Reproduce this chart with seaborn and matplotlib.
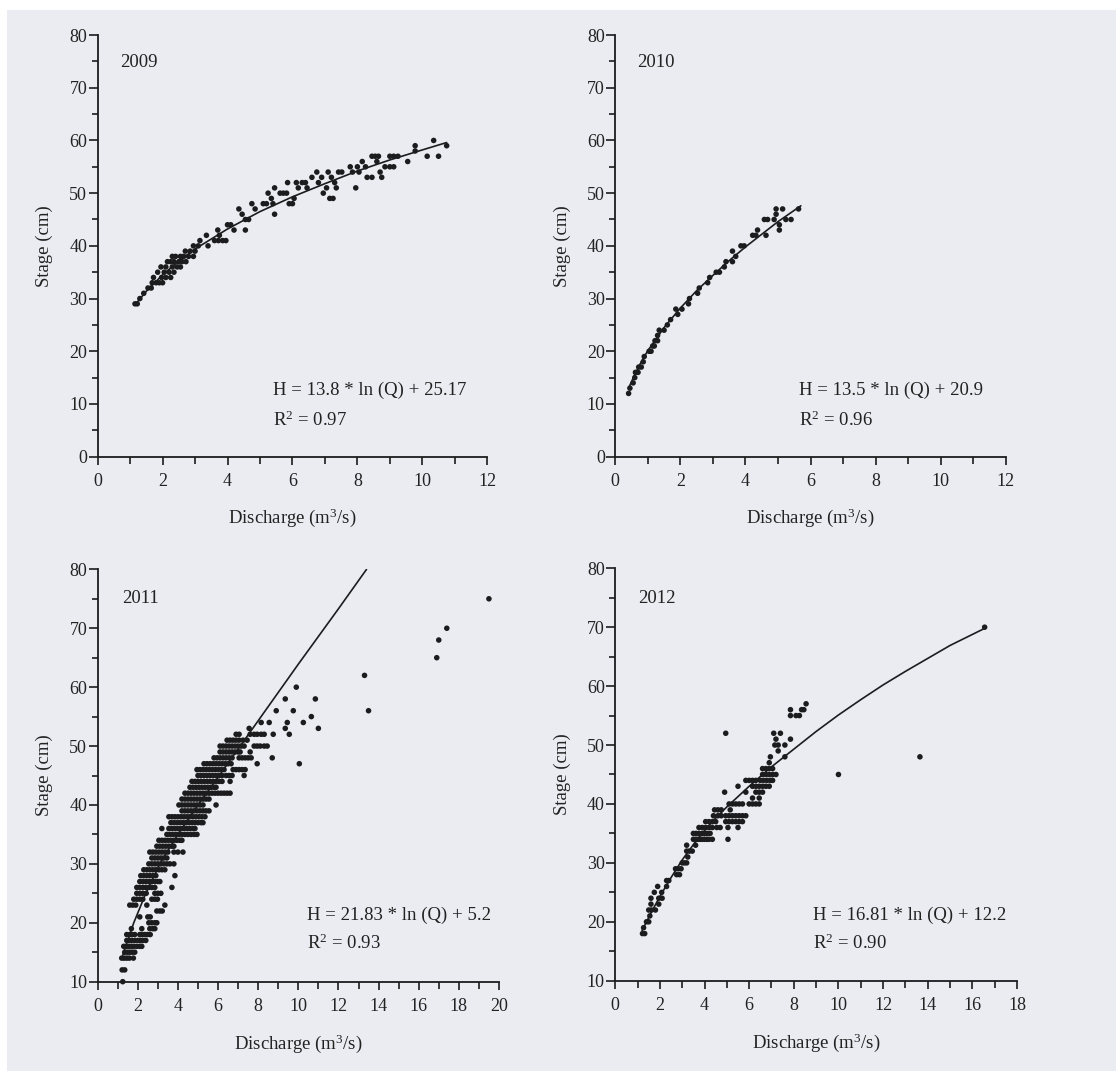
import numpy as np
import pandas as pd
import matplotlib
matplotlib.use("Agg")
import matplotlib.pyplot as plt
from matplotlib.patches import Rectangle
from matplotlib.ticker import MultipleLocator
import seaborn as sns

# ---------------------------------------------------------------------------
# Stage-discharge gaugings, grouped by stage reading (cm); each row lists the
# discharges (m3/s) observed at that stage.
# ---------------------------------------------------------------------------
stages_2009 = [29, 30, 31, 32, 33, 34, 35, 36, 37, 38, 39, 40, 41, 42, 43, 44,
               45, 46, 47, 48, 49, 50, 51, 52, 53, 54, 55, 56, 57, 58, 59, 60]
q_rows_2009 = [
    [1.15, 1.22], [1.3], [1.42], [1.55, 1.65], [1.68, 1.8, 1.9, 2.0],
    [1.72, 1.97, 2.1, 2.25], [1.85, 2.05, 2.2, 2.35],
    [1.95, 2.1, 2.3, 2.45, 2.55], [2.15, 2.25, 2.35, 2.5, 2.6, 2.72],
    [2.3, 2.4, 2.55, 2.65, 2.8, 2.95], [2.7, 2.85, 3.0], [2.95, 3.1, 3.4],
    [3.15, 3.6, 3.72, 3.85, 3.95], [3.35, 3.75], [3.7, 4.2, 4.55], [4.0, 4.1],
    [4.55, 4.65], [4.45, 5.45], [4.35, 4.85],
    [4.75, 5.1, 5.2, 5.4, 5.9, 6.0], [5.35, 6.05, 7.15, 7.25],
    [5.25, 5.62, 5.72, 5.82, 6.95], [5.45, 6.18, 6.45, 7.05, 7.35, 7.95],
    [5.85, 6.12, 6.3, 6.4, 6.8, 7.3], [6.6, 6.9, 7.2, 8.3, 8.45, 8.75],
    [6.75, 7.1, 7.42, 7.52, 7.85, 8.05, 8.7], [7.78, 8.0, 8.25, 8.85, 9.0, 9.12],
    [8.15, 8.6, 9.55], [8.45, 8.55, 8.65, 9.0, 9.12, 9.25, 10.15, 10.5],
    [9.78], [9.78, 10.75], [10.35],
]
fit_q_2009 = [1.15, 1.5, 2.0, 2.5, 3.0, 4.0, 5.0, 6.0, 7.0, 8.0, 9.0, 10.0, 10.75]
fit_h_2009 = [28.8, 31.4, 34.5, 37.1, 39.4, 43.2, 46.5, 49.3, 51.8, 54.2, 56.3, 58.2, 59.6]

stages_2010 = [12, 13, 14, 15, 16, 17, 18, 19, 20, 21, 22, 23, 24, 25, 26, 27,
               28, 29, 30, 31, 32, 33, 34, 35, 36, 37, 38, 39, 40, 42, 43, 44,
               45, 46, 47]
q_rows_2010 = [
    [0.41], [0.45], [0.55], [0.6], [0.62, 0.7], [0.72, 0.8], [0.86], [0.89],
    [1.04, 1.1], [1.15, 1.2], [1.22, 1.3], [1.3], [1.35, 1.5], [1.6], [1.7],
    [1.92], [1.86, 2.05], [2.25], [2.28], [2.53], [2.58], [2.84], [2.9],
    [3.1, 3.2], [3.35], [3.4, 3.6], [3.7], [3.6], [3.86, 3.96],
    [4.22, 4.32, 4.63], [4.37, 5.04], [5.04], [4.58, 4.68, 4.88, 5.24, 5.4],
    [4.94], [4.94, 5.14, 5.63],
]
fit_q_2010 = [0.41, 0.6, 0.8, 1.0, 1.5, 2.0, 2.5, 3.0, 3.5, 4.0, 4.5, 5.0, 5.7]
fit_h_2010 = [13.0, 15.6, 18.0, 20.1, 24.5, 28.2, 31.5, 34.4, 37.2, 39.8, 42.2, 44.6, 47.6]

stages_2011 = [10, 12, 14, 15, 16, 17, 18, 19, 20, 21, 22, 23, 24, 25, 26, 27,
               28, 29, 30, 31, 32, 33, 34, 35, 36, 37, 38, 39, 40, 41, 42, 43,
               44, 45, 46, 47, 48, 49, 50, 51, 52, 53, 54, 55, 56, 58, 60, 62,
               65, 68, 70, 75]
q_rows_2011 = [
    [1.25], [1.22, 1.35], [1.2, 1.32, 1.45, 1.58, 1.78],
    [1.35, 1.48, 1.6, 1.72, 1.85],
    [1.3, 1.42, 1.55, 1.68, 1.8, 1.95, 2.1, 2.2],
    [1.45, 1.58, 1.7, 1.85, 2.0, 2.12, 2.25, 2.4],
    [1.45, 1.6, 1.72, 1.85, 2.1, 2.22, 2.35, 2.48, 2.62],
    [1.68, 2.2, 2.6, 2.75, 2.85], [2.55, 2.7, 2.85, 2.95], [2.1, 2.5, 2.62],
    [2.95, 3.1, 3.22], [1.6, 1.75, 1.9, 2.45, 3.35],
    [1.8, 1.95, 2.1, 2.25, 2.7, 2.85, 2.98],
    [1.95, 2.1, 2.25, 2.42, 2.85, 3.0, 3.15],
    [1.95, 2.1, 2.25, 2.4, 2.55, 2.7, 2.85, 3.7],
    [2.1, 2.25, 2.4, 2.55, 2.7, 2.85, 3.0, 3.1],
    [2.15, 2.3, 2.45, 2.6, 2.75, 2.9, 3.85],
    [2.3, 2.45, 2.6, 2.75, 2.9, 3.05, 3.2, 3.35],
    [2.55, 2.7, 2.85, 3.0, 3.15, 3.3, 3.45, 3.6, 3.8],
    [2.7, 2.85, 3.0, 3.15, 3.3, 3.45],
    [2.6, 2.75, 2.9, 3.05, 3.2, 3.35, 3.5, 3.8, 4.0, 4.25],
    [2.95, 3.1, 3.25, 3.4, 3.55, 3.7, 3.8],
    [3.05, 3.2, 3.35, 3.5, 3.65, 3.8, 3.95, 4.1, 4.2],
    [3.45, 3.6, 3.75, 3.9, 4.05, 4.2, 4.35, 4.5, 4.65, 4.8, 4.95],
    [3.2, 3.55, 3.7, 3.85, 4.0, 4.15, 4.3, 4.45, 4.6, 4.75, 4.85],
    [3.65, 3.8, 3.95, 4.1, 4.25, 4.4, 4.55, 4.7, 4.85, 5.0, 5.15, 5.25],
    [3.55, 3.7, 3.85, 4.0, 4.15, 4.3, 4.45, 4.6, 4.75, 4.9, 5.05, 5.2, 5.35],
    [4.2, 4.35, 4.5, 4.65, 4.8, 4.95, 5.1, 5.25, 5.4, 5.55],
    [4.05, 4.2, 4.35, 4.5, 4.65, 4.8, 4.95, 5.1, 5.25, 5.9],
    [4.2, 4.35, 4.5, 4.65, 4.8, 4.95, 5.1, 5.25, 5.4, 5.55],
    [4.35, 4.5, 4.65, 4.8, 4.95, 5.1, 5.25, 5.4, 5.55, 5.7, 5.85, 6.0, 6.15,
     6.3, 6.45, 6.6],
    [4.6, 4.75, 4.9, 5.05, 5.2, 5.35, 5.5, 5.65, 5.8, 5.9],
    [4.7, 4.85, 5.0, 5.15, 5.3, 5.45, 5.6, 5.75, 5.9, 6.05, 6.2, 6.6],
    [5.0, 5.15, 5.3, 5.45, 5.6, 5.75, 5.9, 6.05, 6.2, 6.4, 6.55, 6.7, 7.3],
    [4.95, 5.1, 5.25, 5.4, 5.55, 5.7, 5.85, 6.0, 6.15, 6.3, 6.75, 6.9, 7.05,
     7.2, 7.35],
    [5.3, 5.45, 5.6, 5.75, 5.9, 6.05, 6.2, 6.35, 6.5, 6.65, 7.95, 10.05],
    [5.8, 5.95, 6.1, 6.25, 6.4, 6.55, 6.7, 7.05, 7.2, 7.35, 7.5, 7.65, 8.7],
    [6.1, 6.25, 6.4, 6.55, 6.7, 6.85, 7.0, 7.1, 7.6],
    [6.1, 6.25, 6.4, 6.55, 6.7, 6.85, 7.0, 7.15, 7.3, 7.8, 7.95, 8.1, 8.3, 8.45],
    [6.45, 6.6, 6.75, 6.9, 7.05, 7.25, 7.45],
    [6.9, 7.05, 7.6, 7.8, 7.95, 8.15, 8.3, 8.75, 9.55],
    [7.55, 9.35, 11.0], [8.15, 8.55, 9.45, 10.25], [10.65],
    [8.9, 9.75, 13.5], [9.35, 10.85], [9.9], [13.3], [16.9], [17.0], [17.4],
    [19.5],
]
fit_q_2011 = [1.25, 1.8, 2.4, 3.1, 4.0, 5.0, 6.0, 7.0, 8.0, 9.0, 10.0, 11.0, 12.0, 13.4]
fit_h_2011 = [14.5, 20.0, 25.0, 30.0, 35.0, 40.0, 44.7, 49.5, 54.3, 59.1, 63.9, 68.6, 73.3, 80.0]

stages_2012 = [18, 19, 20, 21, 22, 23, 24, 25, 26, 27, 28, 29, 30, 31, 32, 33,
               34, 35, 36, 37, 38, 39, 40, 41, 42, 43, 44, 45, 46, 47, 48, 49,
               50, 51, 52, 55, 56, 57, 70]
q_rows_2012 = [
    [1.22, 1.32], [1.27], [1.4, 1.5], [1.55], [1.5, 1.62, 1.8], [1.6, 1.95],
    [1.6, 1.95, 2.1], [1.75, 2.08], [1.9, 2.3], [2.3, 2.4], [2.75, 2.88],
    [2.7, 2.82, 2.95], [3.0, 3.1, 3.2], [3.25], [3.2, 3.32, 3.45], [3.2, 3.6],
    [3.5, 3.6, 3.7, 3.8, 3.9, 4.0, 4.1, 4.2, 4.35, 5.05],
    [3.5, 3.62, 3.75, 3.88, 4.0, 4.12, 4.25],
    [3.75, 3.9, 4.05, 4.2, 4.35, 4.55, 4.7, 5.05, 5.5],
    [4.05, 4.2, 4.35, 4.5, 4.95, 5.1, 5.25, 5.4, 5.55, 5.7],
    [4.4, 4.6, 4.75, 4.95, 5.1, 5.25, 5.4, 5.55, 5.7, 5.85],
    [4.45, 4.6, 4.75, 5.15],
    [5.1, 5.25, 5.4, 5.55, 5.7, 6.0, 6.15, 6.3, 6.45],
    [6.15, 6.45], [4.9, 5.85, 6.3, 6.45, 6.6],
    [5.5, 6.15, 6.3, 6.45, 6.6, 6.75, 6.9],
    [5.85, 6.0, 6.15, 6.3, 6.5, 6.65, 6.8, 6.95, 7.05],
    [6.6, 6.75, 6.9, 7.05, 7.2, 10.0], [6.6, 6.75, 6.9, 7.05], [6.9],
    [6.95, 7.6, 13.65], [7.3], [7.15, 7.3, 7.6], [7.2, 7.85], [4.95, 7.1, 7.4],
    [7.85, 8.1, 8.25], [7.85, 8.35, 8.45], [8.55], [16.55],
]
fit_q_2012 = [1.2, 1.6, 2.0, 2.5, 3.0, 3.5, 4.0, 4.5, 5.0, 6.0, 7.0, 8.0, 9.0,
              10.0, 11.0, 12.0, 13.0, 14.0, 15.0, 16.55]
fit_h_2012 = [18.5, 21.5, 24.3, 27.5, 30.5, 33.1, 35.5, 37.6, 39.5, 43.0, 46.3,
              49.3, 52.3, 55.1, 57.7, 60.2, 62.5, 64.7, 66.9, 69.8]

years = ["2009", "2010", "2011", "2012"]
equations = ["H = 13.8 * ln (Q) + 25.17", "H = 13.5 * ln (Q) + 20.9",
             "H = 21.83 * ln (Q) + 5.2", "H = 16.81 * ln (Q) + 12.2"]
r_squared = ["0.97", "0.96", "0.93", "0.90"]


def gaugings(stages, q_rows):
    rows = [(q, h) for h, qs in zip(stages, q_rows) for q in qs]
    return pd.DataFrame(rows, columns=["Q", "H"])


# ---------------------------------------------------------------------------
# Styling
# ---------------------------------------------------------------------------
sns.set_theme(style="ticks")
plt.rcParams["font.family"] = ["Liberation Serif", "DejaVu Serif"]
plt.rcParams["mathtext.fontset"] = "custom"
plt.rcParams["mathtext.rm"] = "Liberation Serif"
plt.rcParams["mathtext.it"] = "Liberation Serif:italic"
plt.rcParams["mathtext.bf"] = "Liberation Serif:bold"

INK = "#1c1c1e"
TEXT = "#222222"
PAPER = "#eaecf1"

fig = plt.figure(figsize=(11.16, 10.71), dpi=100, facecolor="white")
fig.patches.append(Rectangle((7 / 1116, 0), 1, (1071 - 10) / 1071,
                             transform=fig.transFigure, facecolor=PAPER,
                             edgecolor="none", zorder=-10))

panels = [
    dict(rect=[0.0875, 0.5736, 0.3491, 0.3937], data=gaugings(stages_2009, q_rows_2009),
         fit=(fit_q_2009, fit_h_2009), xmax=12, ymin=0, ylx=-0.115, xly=-0.117,
         year_xy=(0.057, 0.936), eq_xy=(0.451, 0.158, 0.087)),
    dict(rect=[0.5513, 0.5736, 0.3501, 0.3937], data=gaugings(stages_2010, q_rows_2010),
         fit=(fit_q_2010, fit_h_2010), xmax=12, ymin=0, ylx=-0.113, xly=-0.117,
         year_xy=(0.056, 0.936), eq_xy=(0.471, 0.158, 0.087)),
    dict(rect=[0.0875, 0.0834, 0.3596, 0.3850], data=gaugings(stages_2011, q_rows_2011),
         fit=(fit_q_2011, fit_h_2011), xmax=20, ymin=10, ylx=-0.111, xly=-0.124,
         year_xy=(0.060, 0.930), eq_xy=(0.521, 0.162, 0.093)),
    dict(rect=[0.5513, 0.0843, 0.3600, 0.3851], data=gaugings(stages_2012, q_rows_2012),
         fit=(fit_q_2012, fit_h_2012), xmax=18, ymin=10, ylx=-0.110, xly=-0.122,
         year_xy=(0.057, 0.927), eq_xy=(0.493, 0.159, 0.091)),
]

for p, year, eq, r2 in zip(panels, years, equations, r_squared):
    ax = fig.add_axes(p["rect"])
    ax.set_facecolor("none")

    sns.scatterplot(data=p["data"], x="Q", y="H", ax=ax, s=16, color=INK,
                    edgecolor="none", linewidth=0, zorder=3, clip_on=False)
    fit_df = pd.DataFrame({"Q": p["fit"][0], "H": p["fit"][1]})
    sns.lineplot(data=fit_df, x="Q", y="H", ax=ax, color=INK, lw=1.2,
                 errorbar=None, zorder=4)

    ax.set_xlim(0, p["xmax"])
    ax.set_ylim(p["ymin"], 80)
    ax.xaxis.set_major_locator(MultipleLocator(2))
    ax.xaxis.set_minor_locator(MultipleLocator(1))
    ax.yaxis.set_major_locator(MultipleLocator(10))
    ax.yaxis.set_minor_locator(MultipleLocator(5))

    for side in ("top", "right"):
        ax.spines[side].set_visible(False)
    for side in ("left", "bottom"):
        ax.spines[side].set_color(INK)
        ax.spines[side].set_linewidth(1.3)

    ax.tick_params(axis="both", which="both", direction="out", color=INK,
                   width=1.2, labelcolor=TEXT, labelsize=13)
    ax.tick_params(axis="x", which="major", length=6, pad=6)
    ax.tick_params(axis="x", which="minor", length=5)
    ax.tick_params(axis="y", which="major", length=6.5, pad=1)
    ax.tick_params(axis="y", which="minor", length=4.5)

    ax.set_xlabel("Discharge (m$^3$/s)", fontsize=13.5, color=TEXT)
    ax.set_ylabel("Stage (cm)", fontsize=13.5, color=TEXT)
    ax.xaxis.set_label_coords(0.5, p["xly"])
    ax.yaxis.set_label_coords(p["ylx"], 0.5)

    ax.text(p["year_xy"][0], p["year_xy"][1], year, transform=ax.transAxes,
            ha="left", va="center", fontsize=13.5, color=TEXT)
    ex, ey1, ey2 = p["eq_xy"]
    ax.text(ex, ey1, eq, transform=ax.transAxes, ha="left", va="center",
            fontsize=13.5, color=TEXT)
    ax.text(ex, ey2, "R$^{2}$ = " + r2, transform=ax.transAxes, ha="left",
            va="center", fontsize=13.5, color=TEXT)

fig.savefig("out.png", dpi=100, facecolor=fig.get_facecolor())
